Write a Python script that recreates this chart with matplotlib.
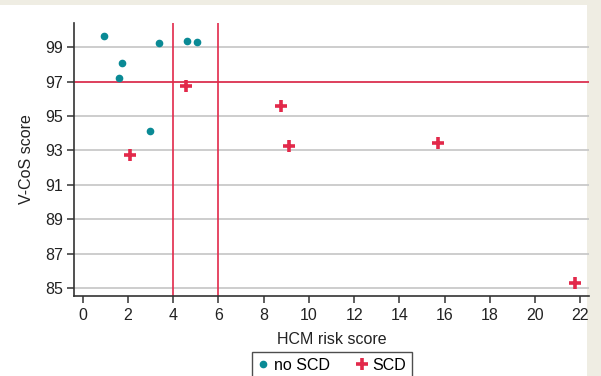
#!/usr/bin/env python3
"""V-CoS score vs HCM risk score scatter, split by SCD outcome."""

import matplotlib

matplotlib.use("Agg")
import matplotlib.pyplot as plt
from matplotlib.patches import Rectangle

plt.rcParams["font.family"] = ["Liberation Sans", "DejaVu Sans"]

# no SCD patients
no_scd_hcm = [0.95, 1.74, 1.59, 3.39, 2.96, 4.60, 5.07]
no_scd_vcos = [99.68, 98.12, 97.23, 99.26, 94.16, 99.39, 99.29]

# SCD patients
scd_hcm = [2.09, 4.58, 8.77, 9.12, 15.72, 21.78]
scd_vcos = [92.76, 96.75, 95.56, 93.28, 93.42, 85.27]

x_ticks = list(range(0, 23, 2))
y_ticks = list(range(85, 100, 2))
hcm_cutoffs = [4, 6]
vcos_cutoff = 97

TEAL = "#0a8a95"
RED = "#e2294a"
BEIGE = "#efede3"
FS = 11.5


def main() -> None:
    W, H = 601, 376
    fig = plt.figure(figsize=(W / 100, H / 100), dpi=100, facecolor=BEIGE)
    # white panel behind everything
    fig.add_artist(
        Rectangle((0, 0), 587 / W, 1 - 5 / H, transform=fig.transFigure,
                  facecolor="white", edgecolor="none", zorder=-10)
    )

    ax = fig.add_axes([74 / W, 1 - 296 / H, (589 - 74) / W, (296 - 23) / H])
    ax.set_facecolor("none")

    for y in y_ticks:
        ax.axhline(y, color="#c9c9c9", lw=1.3, zorder=1)
    ax.axhline(vcos_cutoff, color=RED, lw=1.2, zorder=2)
    for x in hcm_cutoffs:
        ax.axvline(x, color=RED, lw=1.2, zorder=2)

    ax.plot(no_scd_hcm, no_scd_vcos, ls="none", marker="o", ms=4.5,
            color=TEAL, mec=TEAL, label="no SCD", zorder=3)
    ax.plot(scd_hcm, scd_vcos, ls="none", marker="+", ms=8, mew=2.6,
            color=RED, label="SCD", zorder=3)

    ax.set_xlim(-0.38, 22.38)
    ax.set_ylim(84.53, 100.42)
    ax.set_xticks(x_ticks)
    ax.set_yticks(y_ticks)

    for side in ("top", "right"):
        ax.spines[side].set_visible(False)
    for side in ("left", "bottom"):
        ax.spines[side].set_color("#333333")
        ax.spines[side].set_linewidth(1.2)
    ax.tick_params(axis="both", length=5, width=1.1, color="#333333",
                   labelsize=FS, labelcolor="#222222", pad=3)
    ax.tick_params(axis="x", pad=4)

    ax.set_xlabel("HCM risk score", fontsize=FS, color="#222222", labelpad=6)
    ax.set_ylabel("V-CoS score", fontsize=FS, color="#222222", labelpad=8)

    leg = fig.legend(loc="upper center", bbox_to_anchor=(332 / W, 1 - 352 / H),
                     ncol=2, frameon=True, fancybox=False, fontsize=FS,
                     handlelength=0.7, handletextpad=0.3, columnspacing=1.7,
                     borderpad=0.35, borderaxespad=0)
    leg.get_frame().set_edgecolor("#222222")
    leg.get_frame().set_linewidth(1.0)

    fig.savefig("out.png", dpi=100, facecolor=BEIGE)


if __name__ == "__main__":
    main()
